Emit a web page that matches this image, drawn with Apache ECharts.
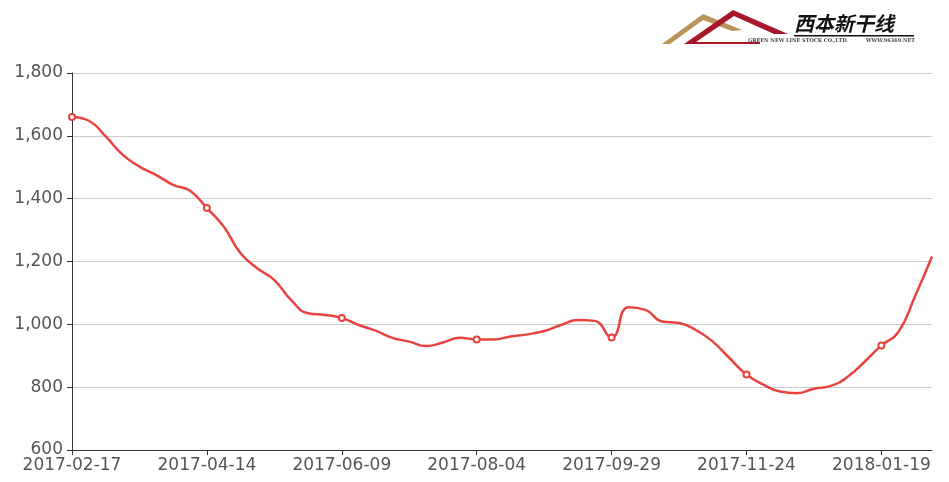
<!DOCTYPE html>
<html>
<head>
<meta charset="utf-8">
<script src="https://cdn.jsdelivr.net/npm/echarts@6/dist/echarts.min.js"></script>
<style>
html,body{margin:0;padding:0;background:#fff;}
#chart{width:949px;height:482px;}
</style>
</head>
<body>
<div id="chart"></div>
<script>
var dates = ['2017-02-17','2017-02-24','2017-03-03','2017-03-10','2017-03-17','2017-03-24','2017-03-31','2017-04-07',
  '2017-04-14','2017-04-21','2017-04-28','2017-05-05','2017-05-12','2017-05-19','2017-05-26','2017-06-02',
  '2017-06-09','2017-06-16','2017-06-23','2017-06-30','2017-07-07','2017-07-14','2017-07-21','2017-07-28',
  '2017-08-04','2017-08-11','2017-08-18','2017-08-25','2017-09-01','2017-09-08','2017-09-15','2017-09-22',
  '2017-09-29','2017-10-06','2017-10-13','2017-10-20','2017-10-27','2017-11-03','2017-11-10','2017-11-17',
  '2017-11-24','2017-12-01','2017-12-08','2017-12-15','2017-12-22','2017-12-29','2018-01-05','2018-01-12',
  '2018-01-19','2018-01-26','2018-02-02','2018-02-09'];
var prices = [1660,1648,1598,1540,1502,1475,1444,1425,
  1370,1311,1226,1178,1141,1077,1035,1030,
  1020,998,980,957,945,931,942,957,
  952,952,961,968,979,998,1014,1011,
  958,1054,1046,1009,1004,982,945,892,
  840,808,786,781,795,804,833,881,
  933,975,1090,1216];
var yMin = 600, yMax = 1800, yStep = 200;
var logoTitle = '西本新干线';
var logoSub = 'GREEN NEW LINE STOCK CO.,LTD.';
var logoWeb = 'WWW.96369.NET';

var chart = echarts.init(document.getElementById('chart'));
var fontFam = 'DejaVu Sans';
chart.setOption({
  animation: false,
  grid: {left: 72, right: 17, top: 73, bottom: 32},
  xAxis: {
    type: 'category',
    data: dates,
    boundaryGap: false,
    axisLine: {lineStyle: {color: '#333', width: 1}},
    axisTick: {interval: 7, length: 5, lineStyle: {color: '#333'}},
    axisLabel: {interval: 7, color: '#555', fontSize: 17, fontFamily: fontFam, margin: 7}
  },
  yAxis: {
    type: 'value',
    min: yMin, max: yMax, interval: yStep,
    axisLine: {show: true, lineStyle: {color: '#333', width: 1}},
    axisTick: {show: true, length: 5, lineStyle: {color: '#333'}},
    axisLabel: {color: '#555', fontSize: 17, fontFamily: fontFam, margin: 9,
      formatter: function (v) { return v.toLocaleString('en-US'); }},
    splitLine: {lineStyle: {color: '#ccc'}}
  },
  series: [{
    type: 'line',
    data: prices,
    smooth: true,
    showAllSymbol: false,
    symbol: 'emptyCircle',
    symbolSize: 6,
    lineStyle: {color: '#e8433f', width: 2.5},
    itemStyle: {color: '#e8433f', borderWidth: 1.5}
  }],
  graphic: [
    {type: 'polygon', shape: {points: [[662,44],[703,14],[742,30],[732,31],[703,20],[670,44]]}, style: {fill: '#b8945a'}},
    {type: 'polygon', shape: {points: [[684,44],[733,10],[788,34],[774,34],[734,16],[696,42],[760,42],[760,44]]}, style: {fill: '#a8162a'}},
    {type: 'text', left: 794, top: 13, style: {text: logoTitle, font: 'italic bold 20px "Noto Sans CJK SC"', fill: '#111'}},
    {type: 'rect', shape: {x: 794, y: 35, width: 120, height: 1.5}, style: {fill: '#111'}},
    {type: 'text', left: 748, top: 38, style: {text: logoSub, font: 'bold 5px "DejaVu Serif"', fill: '#444'}},
    {type: 'text', left: 866, top: 38, style: {text: logoWeb, font: 'bold 5px "DejaVu Serif"', fill: '#444'}}
  ]
});
</script>
</body>
</html>
